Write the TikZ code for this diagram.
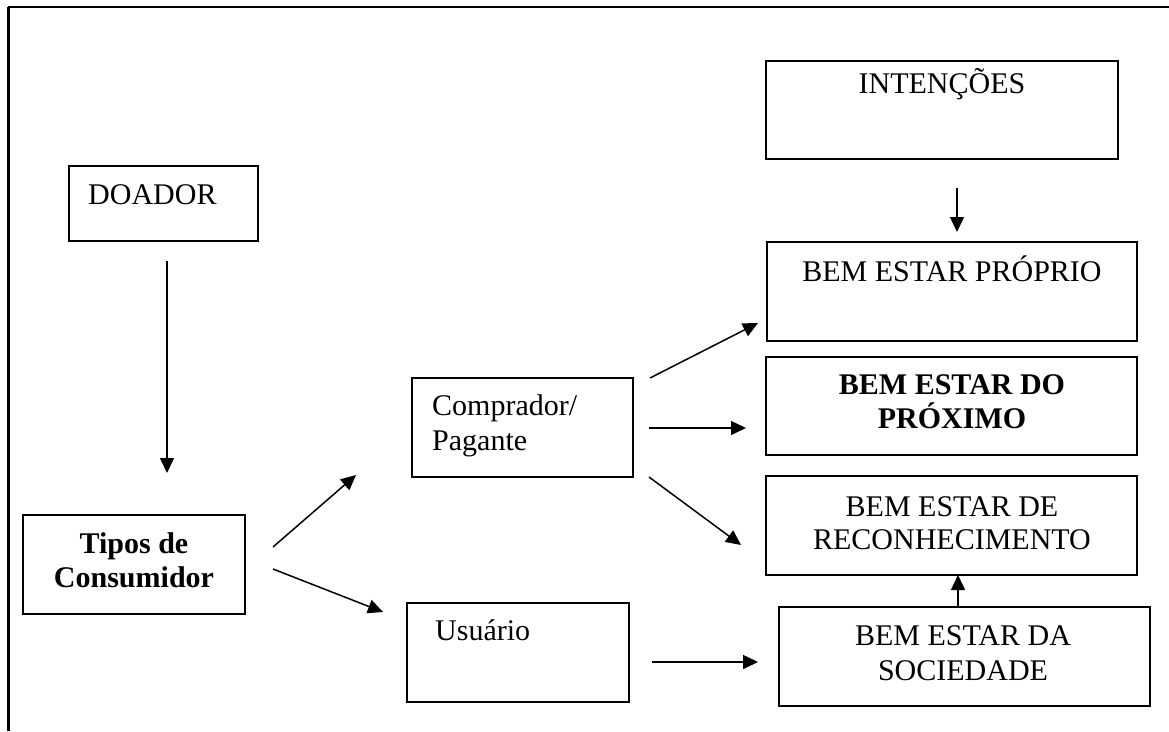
\documentclass[tikz,border=0pt]{standalone}
\usepackage{fontspec}
\setmainfont{Liberation Serif}
\usetikzlibrary{arrows.meta}
\begin{document}
\begin{tikzpicture}[x=1pt,y=-1pt,
  boxA/.style={draw, line width=1.8pt},
  txt/.style={inner sep=0pt, font=\fontsize{30}{35}\selectfont},
  txtb/.style={txt, font=\fontsize{30}{35}\selectfont\bfseries},
  conn/.style={line width=1.5pt, -{Triangle[length=15pt,width=14pt]}},
  frameline/.style={line width=2pt}]
\useasboundingbox (0,0) rectangle (1169,731);
% outer frame
\coordinate (ftl) at (8,7);
\coordinate (ftr) at (1169,7);
\coordinate (fbl) at (8,731);
\draw[frameline] (ftr) -- (ftl);
\draw[line width=3pt] (ftl) -- (fbl);
% boxes
\draw[boxA] (766,61) rectangle (1118,159) node[pos=0.5,inner sep=0] (intencoes) {};
\draw[boxA] (767,242) rectangle (1137,341) node[pos=0.5,inner sep=0] (proprio) {};
\draw[boxA] (766,357) rectangle (1137,455) node[pos=0.5,inner sep=0] (proximo) {};
\draw[boxA] (766,476) rectangle (1137,575) node[pos=0.5,inner sep=0] (reconhec) {};
\draw[boxA] (779,607) rectangle (1150,706) node[pos=0.5,inner sep=0] (sociedade) {};
\draw[boxA] (69,166) rectangle (258,241) node[pos=0.5,inner sep=0] (doador) {};
\draw[boxA] (23,515) rectangle (245,614) node[pos=0.5,inner sep=0] (tipos) {};
\draw[boxA] (412,378) rectangle (633,477) node[pos=0.5,inner sep=0] (comprador) {};
\draw[boxA] (407,603) rectangle (629,702) node[pos=0.5,inner sep=0] (usuario) {};
% texts
\node[txt, anchor=base] (tIntencoes) at (942,93) {INTENÇÕES};
\node[txt, anchor=base] (tProprio) at (952,281) {BEM ESTAR PRÓPRIO};
\node[txtb, anchor=base] (tProximoA) at (952,394) {BEM ESTAR DO};
\node[txtb, anchor=base] (tProximoB) at (952,428) {PRÓXIMO};
\node[txt, anchor=base] (tReconA) at (952,516) {BEM ESTAR DE};
\node[txt, anchor=base] (tReconB) at (952,549) {RECONHECIMENTO};
\node[txt, anchor=base] (tSocA) at (963,645) {BEM ESTAR DA};
\node[txt, anchor=base] (tSocB) at (963,680) {SOCIEDADE};
\node[txt, anchor=base west] (tDoador) at (88,204) {DOADOR};
\node[txtb, anchor=base] (tTiposA) at (134,553) {Tipos de};
\node[txtb, anchor=base] (tTiposB) at (134,587) {Consumidor};
\node[txt, anchor=base west] (tCompA) at (432,415) {Comprador/};
\node[txt, anchor=base west] (tCompB) at (432,450) {Pagante};
\node[txt, anchor=base west] (tUsuario) at (435,640) {Usuário};
% connector end points
\coordinate (a1s) at (167,261); \coordinate (a1e) at (167,473);
\coordinate (a2s) at (957,188); \coordinate (a2e) at (957,232);
\coordinate (a3s) at (273,547); \coordinate (a3e) at (356,475);
\coordinate (a4s) at (273,569); \coordinate (a4e) at (383,612);
\coordinate (a5s) at (650,378); \coordinate (a5e) at (758,323);
\coordinate (a6s) at (649,428); \coordinate (a6e) at (746,428);
\coordinate (a7s) at (649,477); \coordinate (a7e) at (741,545);
\coordinate (a8s) at (652,662); \coordinate (a8e) at (758,662);
\coordinate (a9s) at (958,607); \coordinate (a9e) at (958,575);
% connectors
\draw[conn] (a1s) -- (a1e);
\draw[conn] (a2s) -- (a2e);
\draw[conn] (a3s) -- (a3e);
\draw[conn] (a4s) -- (a4e);
\draw[conn] (a5s) -- (a5e);
\draw[conn] (a6s) -- (a6e);
\draw[conn] (a7s) -- (a7e);
\draw[conn] (a8s) -- (a8e);
\draw[conn] (a9s) -- (a9e);
\end{tikzpicture}
\end{document}
